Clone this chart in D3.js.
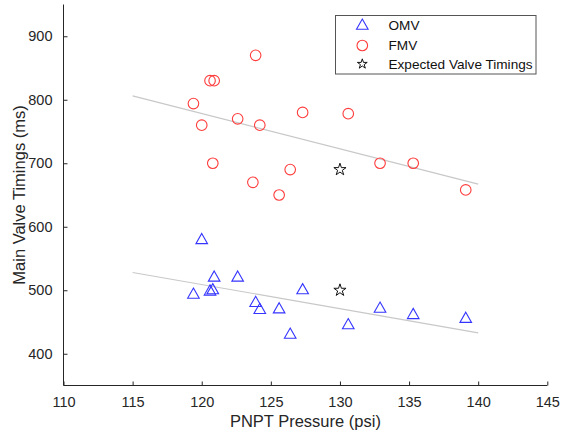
<!DOCTYPE html>
<html><head><meta charset="utf-8">
<script src="https://cdn.jsdelivr.net/npm/d3@7/dist/d3.min.js"></script>
<style>body{margin:0;background:#fff}svg{display:block;font-family:"Liberation Sans",Arial,sans-serif}</style>
</head><body><svg id="c" width="562" height="436"></svg>
<script>
const xTicks = [110,115,120,125,130,135,140,145];
const yTicks = [400,500,600,700,800,900];
const omvX = [119.4,120.0,120.6,120.8,120.9,122.6,123.9,124.2,125.6,126.4,127.3,130.6,132.9,135.3,139.1];
const omvY = [494,580,499,501,521,521,481,470,471,431,501,446,472,462,456];
const fmvX = [119.4,120.0,120.6,120.9,123.9,122.6,124.2,120.8,123.7,125.6,126.4,127.3,130.6,132.9,135.3,139.1];
const fmvY = [794,760,830,830,870,770,760,700,670,650,690,780,778,700,700,658];
const expX = [130,130];
const expY = [690,500];
const trendX = [115,140];
const trendFMV = [806,667];
const trendOMV = [528,433];
const legendLabels = ["OMV","FMV","Expected Valve Timings"];

const svg = d3.select("#c");
const L=63.5, R=547.3, T=4.5, B=385.5;
const x = d3.scaleLinear().domain([110,145]).range([L,R]);
const y = d3.scaleLinear().domain([350,950]).range([B,T]);
const axCol="#262626";

const gx = svg.append("g").attr("transform",`translate(0,${B})`)
  .call(d3.axisBottom(x).tickValues(xTicks).tickSizeInner(-4).tickSizeOuter(0).tickPadding(11));
const gy = svg.append("g").attr("transform",`translate(${L},0)`)
  .call(d3.axisLeft(y).tickValues(yTicks).tickSizeInner(-4).tickSizeOuter(0).tickPadding(11));
[gx,gy].forEach(g=>{
  g.select(".domain").attr("stroke",axCol);
  g.selectAll(".tick line").attr("stroke",axCol);
  g.selectAll("text").attr("fill",axCol).style("font-size","14.5px").style("font-family","'Liberation Sans',Arial,sans-serif");
});
gy.select(".domain").attr("d",`M0,${T}V${B}`);
gx.select(".domain").attr("d",`M${L},0H${R}`);

svg.append("text").attr("x",(L+R)/2).attr("y",427).attr("text-anchor","middle")
  .attr("fill",axCol).style("font-size","16.5px").text("PNPT Pressure (psi)");
svg.append("text").attr("transform",`translate(25,${(T+B)/2}) rotate(-90)`).attr("text-anchor","middle")
  .attr("fill",axCol).style("font-size","16.5px").text("Main Valve Timings (ms)");

const line = d3.line().x(d=>x(d[0])).y(d=>y(d[1]));
svg.append("path").attr("d",line(trendX.map((v,i)=>[v,trendFMV[i]]))).attr("stroke","#c8c8c8").attr("stroke-width",1.2).attr("fill","none");
svg.append("path").attr("d",line(trendX.map((v,i)=>[v,trendOMV[i]]))).attr("stroke","#c8c8c8").attr("stroke-width",1.2).attr("fill","none");

const triPath = "M0,-6L5.8,4.2L-5.8,4.2Z";
const blue="#3535ff", red="#ff3c3c";
const star = d3.symbol().type(d3.symbolStar).size(46)();

svg.append("g").selectAll("path").data(omvX.map((v,i)=>[v,omvY[i]])).join("path")
  .attr("d",triPath).attr("transform",d=>`translate(${x(d[0])},${y(d[1])})`)
  .attr("fill","none").attr("stroke",blue).attr("stroke-width",1.1);
svg.append("g").selectAll("circle").data(fmvX.map((v,i)=>[v,fmvY[i]])).join("circle")
  .attr("cx",d=>x(d[0])).attr("cy",d=>y(d[1])).attr("r",5.3)
  .attr("fill","none").attr("stroke",red).attr("stroke-width",1.1);
svg.append("g").selectAll("path").data(expX.map((v,i)=>[v,expY[i]])).join("path")
  .attr("d",star).attr("transform",d=>`translate(${x(d[0])},${y(d[1])})`)
  .attr("fill","none").attr("stroke","#111").attr("stroke-width",1);

const lg = svg.append("g");
lg.append("rect").attr("x",335.5).attr("y",15.5).attr("width",200.5).attr("height",58.5)
  .attr("fill","#fff").attr("stroke","#555").attr("stroke-width",1);
const rows=[25,45.5,64];
lg.append("path").attr("d",triPath).attr("transform",`translate(362.3,${rows[0]})`).attr("fill","none").attr("stroke",blue).attr("stroke-width",1.1);
lg.append("circle").attr("cx",362.3).attr("cy",rows[1]).attr("r",5.3).attr("fill","none").attr("stroke",red).attr("stroke-width",1.1);
lg.append("path").attr("d",d3.symbol().type(d3.symbolStar).size(30)()).attr("transform",`translate(362.3,${rows[2]})`).attr("fill","none").attr("stroke","#111").attr("stroke-width",1);
legendLabels.forEach((t,i)=>{
  lg.append("text").attr("x",388.5).attr("y",rows[i]).attr("dy","0.35em").attr("fill","#111").style("font-size","13.6px").text(t);
});
</script></body></html>
